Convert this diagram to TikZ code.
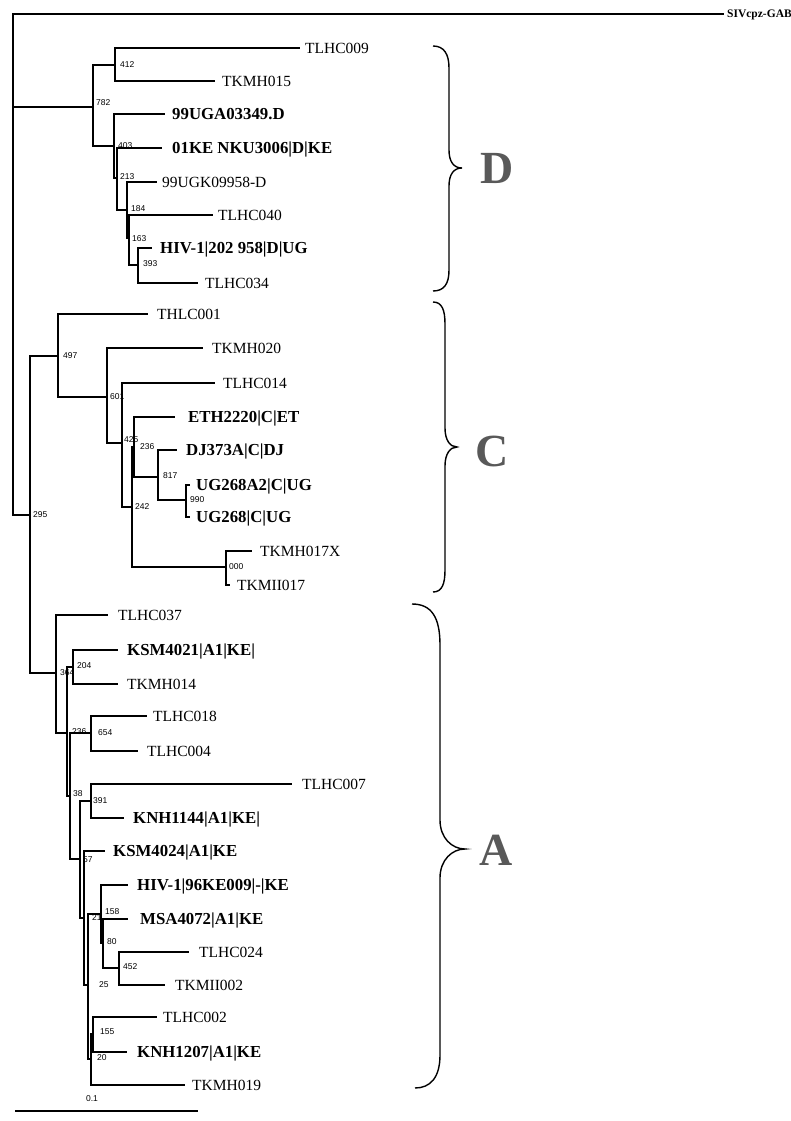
\documentclass[tikz,border=0pt]{standalone}
\usepackage{fontspec}
\setmainfont{Liberation Serif}
\newfontfamily\bsfont{Liberation Sans}
\newcommand\mkleaf[6]{\coordinate (t#1) at (#2,#3); \node[#5] (l#1) at (#4,#3) {#6};}
\newcommand\mkbs[4]{\node[bs] (b#1) at (#2,#3) {#4};}
\begin{document}
\begin{tikzpicture}[x=1pt,y=-1pt,
  br/.style={line width=1.2pt},
  lf/.style={anchor=west, inner sep=0pt, font=\fontsize{15.5}{15.5}\selectfont, text height=10.5pt, text depth=0pt},
  lfb/.style={lf, font=\fontsize{16.8}{16.8}\selectfont\bfseries, text height=11pt},
  bs/.style={anchor=west, inner sep=0pt, font=\bsfont\fontsize{8.5}{8.5}\selectfont},
  bracel/.style={line width=1.4pt},
  clade/.style={inner sep=0pt, font=\fontsize{46}{46}\selectfont\bfseries, text=black!65}]
\useasboundingbox (0,0) rectangle (790,1121);

% ---------- root ----------
\coordinate (R) at (13,264);
\coordinate (tSIV) at (724,14);
\node[lfb, font=\fontsize{11.5}{11.5}\selectfont\bfseries, text height=8pt] (lSIV) at (727,14) {SIVcpz-GAB};

% ---------- clade D ----------
\coordinate (n782) at (93,107);
\coordinate (n412) at (115,65);
\coordinate (n403) at (114,146);
\coordinate (n213) at (117,178);
\coordinate (n184) at (127,210);
\coordinate (n163) at (129,238);
\coordinate (n393) at (138,265);
\mkleaf{TLHC009}{300}{48}{305}{lf}{TLHC009}
\mkleaf{TKMH015}{215}{81}{222}{lf}{TKMH015}
\mkleaf{99UGA}{165}{114}{172}{lfb}{99UGA03349.D}
\mkleaf{01KE}{162}{148}{172}{lfb}{01KE NKU3006|D|KE}
\mkleaf{99UGK}{157}{182}{162}{lf}{99UGK09958-D}
\mkleaf{TLHC040}{213}{215}{218}{lf}{TLHC040}
\mkleaf{HIVD}{152}{248}{160}{lfb}{HIV-1|202 958|D|UG}
\mkleaf{TLHC034}{198}{283}{205}{lf}{TLHC034}

% ---------- clade C ----------
\coordinate (n295) at (30,515);
\coordinate (n497) at (58,356);
\coordinate (n601) at (107,397);
\coordinate (n425) at (122,443);
\coordinate (n242) at (132,507);
\coordinate (n236c) at (134,447);
\coordinate (n817) at (158,477);
\coordinate (n990) at (186,500);
\coordinate (n000) at (226,567);
\mkleaf{THLC001}{148}{314}{157}{lf}{THLC001}
\mkleaf{TKMH020}{203}{348}{212}{lf}{TKMH020}
\mkleaf{TLHC014}{215}{383}{223}{lf}{TLHC014}
\mkleaf{ETH}{175}{417}{188}{lfb}{ETH2220|C|ET}
\mkleaf{DJ}{177}{450}{186}{lfb}{DJ373A|C|DJ}
\mkleaf{UGA2}{190}{485}{196}{lfb}{UG268A2|C|UG}
\mkleaf{UG}{190}{517}{196}{lfb}{UG268|C|UG}
\mkleaf{TKMH017X}{252}{551}{260}{lf}{TKMH017X}
\mkleaf{TKMII017}{230}{585}{237}{lf}{TKMII017}

% ---------- clade A ----------
\coordinate (n364) at (56,673);
\coordinate (n236a) at (67,733);
\coordinate (n204) at (73,667);
\coordinate (n38) at (70,796);
\coordinate (n654) at (91,733);
\coordinate (n57) at (80,859);
\coordinate (n391) at (91,801);
\coordinate (n21) at (84,918);
\coordinate (n25) at (88,985);
\coordinate (n158) at (101,914);
\coordinate (n80) at (103,943);
\coordinate (n452) at (119,968);
\coordinate (n20) at (91,1059);
\coordinate (n155) at (93,1034);
\mkleaf{TLHC037}{108}{615}{118}{lf}{TLHC037}
\mkleaf{KSM4021}{118}{650}{127}{lfb}{KSM4021|A1|KE|}
\mkleaf{TKMH014}{118}{684}{127}{lf}{TKMH014}
\mkleaf{TLHC018}{147}{716}{153}{lf}{TLHC018}
\mkleaf{TLHC004}{138}{751}{147}{lf}{TLHC004}
\mkleaf{TLHC007}{292}{784}{302}{lf}{TLHC007}
\mkleaf{KNH1144}{124}{818}{133}{lfb}{KNH1144|A1|KE|}
\mkleaf{KSM4024}{105}{851}{113}{lfb}{KSM4024|A1|KE}
\mkleaf{HIV96}{128}{885}{137}{lfb}{HIV-1|96KE009|-|KE}
\mkleaf{MSA}{128}{919}{140}{lfb}{MSA4072|A1|KE}
\mkleaf{TLHC024}{189}{952}{199}{lf}{TLHC024}
\mkleaf{TKMII002}{165}{985}{175}{lf}{TKMII002}
\mkleaf{TLHC002}{157}{1017}{163}{lf}{TLHC002}
\mkleaf{KNH1207}{127}{1052}{137}{lfb}{KNH1207|A1|KE}
\mkleaf{TKMH019}{185}{1085}{192}{lf}{TKMH019}

% ---------- bootstrap values ----------
\mkbs{412}{120}{65}{412}
\mkbs{782}{96}{103}{782}
\mkbs{403}{118}{146}{403}
\mkbs{213}{120}{177}{213}
\mkbs{184}{131}{209}{184}
\mkbs{163}{132}{239}{163}
\mkbs{393}{143}{264}{393}
\mkbs{295}{33}{515}{295}
\mkbs{497}{63}{356}{497}
\mkbs{601}{110}{397}{601}
\mkbs{425}{124}{440}{425}
\mkbs{236c}{140}{447}{236}
\mkbs{817}{163}{476}{817}
\mkbs{990}{190}{500}{990}
\mkbs{242}{135}{507}{242}
\mkbs{000}{229}{567}{000}
\mkbs{364}{60}{673}{364}
\mkbs{204}{77}{666}{204}
\mkbs{236a}{72}{732}{236}
\mkbs{654}{98}{733}{654}
\mkbs{38}{73}{794}{38}
\mkbs{391}{93}{801}{391}
\mkbs{57}{83}{860}{57}
\mkbs{21}{92}{918}{21}
\mkbs{158}{105}{912}{158}
\mkbs{80}{107}{942}{80}
\mkbs{452}{123}{967}{452}
\mkbs{25}{99}{985}{25}
\mkbs{155}{100}{1032}{155}
\mkbs{20}{97}{1058}{20}

% ---------- branches ----------
\draw[br] (R) |- (tSIV);
\draw[br] (R) |- (n782);
\draw[br] (R) |- (n295);
\draw[br] (n782) |- (n412); \draw[br] (n782) |- (n403);
\draw[br] (n412) |- (tTLHC009); \draw[br] (n412) |- (tTKMH015);
\draw[br] (n403) |- (t99UGA); \draw[br] (n403) |- (n213);
\draw[br] (n213) |- (t01KE); \draw[br] (n213) |- (n184);
\draw[br] (n184) |- (t99UGK); \draw[br] (n184) |- (n163);
\draw[br] (n163) |- (tTLHC040); \draw[br] (n163) |- (n393);
\draw[br] (n393) |- (tHIVD); \draw[br] (n393) |- (tTLHC034);
\draw[br] (n295) |- (n497); \draw[br] (n295) |- (n364);
\draw[br] (n497) |- (tTHLC001); \draw[br] (n497) |- (n601);
\draw[br] (n601) |- (tTKMH020); \draw[br] (n601) |- (n425);
\draw[br] (n425) |- (tTLHC014); \draw[br] (n425) |- (n242);
\draw[br] (n242) |- (n236c); \draw[br] (n242) |- (n000);
\draw[br] (n236c) |- (tETH); \draw[br] (n236c) |- (n817);
\draw[br] (n817) |- (tDJ); \draw[br] (n817) |- (n990);
\draw[br] (n990) |- (tUGA2); \draw[br] (n990) |- (tUG);
\draw[br] (n000) |- (tTKMH017X); \draw[br] (n000) |- (tTKMII017);
\draw[br] (n364) |- (tTLHC037); \draw[br] (n364) |- (n236a);
\draw[br] (n236a) |- (n204); \draw[br] (n236a) |- (n38);
\draw[br] (n204) |- (tKSM4021); \draw[br] (n204) |- (tTKMH014);
\draw[br] (n38) |- (n654); \draw[br] (n38) |- (n57);
\draw[br] (n654) |- (tTLHC018); \draw[br] (n654) |- (tTLHC004);
\draw[br] (n57) |- (n391); \draw[br] (n57) |- (n21);
\draw[br] (n391) |- (tTLHC007); \draw[br] (n391) |- (tKNH1144);
\draw[br] (n21) |- (tKSM4024); \draw[br] (n21) |- (n25);
\draw[br] (n25) |- (n158); \draw[br] (n25) |- (n20);
\draw[br] (n158) |- (tHIV96); \draw[br] (n158) |- (n80);
\draw[br] (n80) |- (tMSA); \draw[br] (n80) |- (n452);
\draw[br] (n452) |- (tTLHC024); \draw[br] (n452) |- (tTKMII002);
\draw[br] (n20) |- (n155); \draw[br] (n20) |- (tTKMH019);
\draw[br] (n155) |- (tTLHC002); \draw[br] (n155) |- (tKNH1207);

% ---------- scale bar ----------
\coordinate (s0) at (15,1111);
\coordinate (s1) at (198,1111);
\draw[br] (s0) -- (s1);
\node[bs, anchor=center] (sl) at (92,1099) {0.1};

% ---------- braces and clade letters ----------
\draw[bracel] (433,46) .. controls (444,46) and (449,54) .. (449,68) -- (449,150)
  .. controls (449,162) and (454,168) .. (462,168)
  .. controls (454,168) and (449,174) .. (449,186) -- (449,270)
  .. controls (449,284) and (444,291) .. (433,291);
\draw[bracel] (433,302) .. controls (442,302) and (445,310) .. (445,324) -- (445,428)
  .. controls (445,440) and (450,447) .. (457,447)
  .. controls (450,447) and (445,454) .. (445,466) -- (445,570)
  .. controls (445,584) and (442,592) .. (433,592);
\draw[bracel] (412,604) .. controls (432,604) and (440,618) .. (440,645) -- (440,820)
  .. controls (440,838) and (452,849) .. (465,849)
  .. controls (452,849) and (440,860) .. (440,878) -- (440,1055)
  .. controls (440,1078) and (430,1088) .. (415,1088);
\node[clade] (cD) at (497,168) {D};
\node[clade] (cC) at (492,451) {C};
\node[clade] (cA) at (496,850) {A};
\end{tikzpicture}
\end{document}
